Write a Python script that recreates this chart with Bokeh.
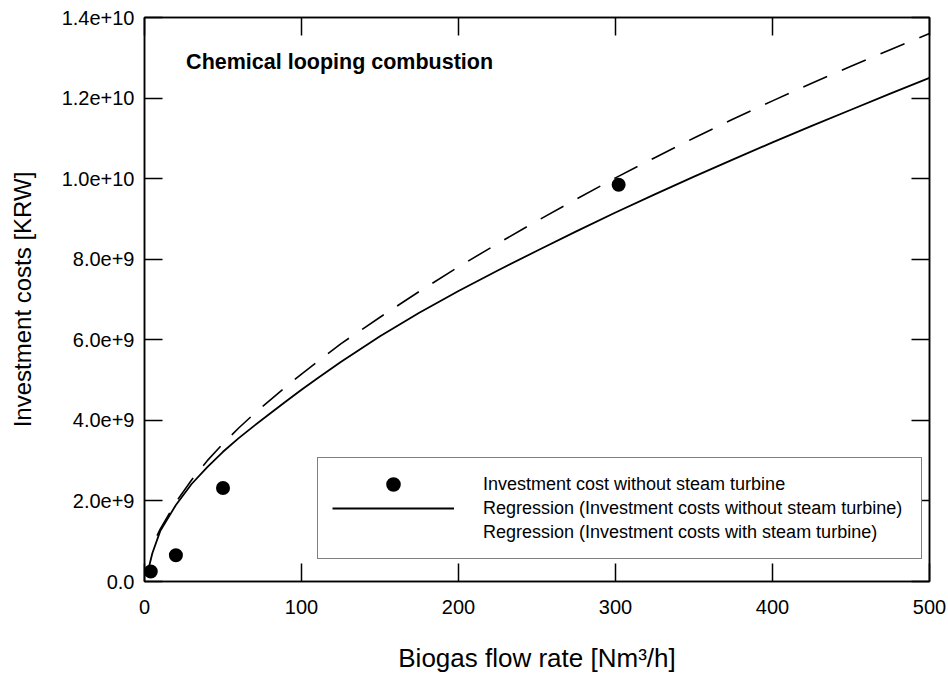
from bokeh.plotting import figure
from bokeh.models import LinearAxis, FixedTicker, Legend, LegendItem, Range1d, Label
from bokeh.embed import file_html
from bokeh.resources import INLINE

# ---- data ----
pts_x = [4, 20, 50, 302]
pts_y = [0.25e9, 0.65e9, 2.32e9, 9.85e9]

reg_wo_x = [1.5, 5, 10, 20, 30, 40, 50, 60, 70, 80, 90, 100, 110, 125, 150, 175, 200, 225, 250,
            275, 300, 325, 350, 375, 400, 425, 450, 475, 500]
reg_wo_y = [0.15e9, 0.70e9, 1.25e9, 1.90e9, 2.42e9, 2.84e9, 3.22e9, 3.56e9, 3.87e9, 4.17e9, 4.47e9,
            4.76e9, 5.04e9, 5.45e9, 6.09e9, 6.67e9, 7.21e9, 7.72e9, 8.21e9, 8.69e9, 9.16e9, 9.61e9,
            10.05e9, 10.48e9, 10.90e9, 11.31e9, 11.71e9, 12.11e9, 12.50e9]

reg_w_x = [8, 10, 20, 30, 40, 50, 60, 70, 80, 90, 100, 125, 150, 175, 200, 225, 250, 275, 300,
           325, 350, 375, 400, 425, 450, 475, 500]
reg_w_y = [1.14e9, 1.30e9, 1.97e9, 2.52e9, 3.00e9, 3.42e9, 3.81e9, 4.17e9, 4.50e9, 4.83e9, 5.15e9,
           5.90e9, 6.56e9, 7.20e9, 7.81e9, 8.39e9, 8.95e9, 9.49e9, 10.02e9, 10.52e9, 11.01e9,
           11.48e9, 11.93e9, 12.37e9, 12.79e9, 13.20e9, 13.60e9]

x_ticks = [0, 100, 200, 300, 400, 500]
y_ticks = [0, 2e9, 4e9, 6e9, 8e9, 1.0e10, 1.2e10, 1.4e10]
y_tick_labels = ["0.0", "2.0e+9", "4.0e+9", "6.0e+9", "8.0e+9", "1.0e+10", "1.2e+10", "1.4e+10"]

legend_labels = ["Investment cost without steam turbine",
                 "Regression (Investment costs without steam turbine)",
                 "Regression (Investment costs with steam turbine)"]
title_text = "Chemical looping combustion"

FONT = "Liberation Sans"

p = figure(width=948, height=679, output_backend="svg", toolbar_location=None,
           x_range=Range1d(0, 500), y_range=Range1d(0, 1.4e10),
           min_border_left=144, min_border_right=19, min_border_top=17, min_border_bottom=98,
           x_axis_label="Biogas flow rate [Nm³/h]", y_axis_label="Investment costs [KRW]")
p.grid.visible = False
p.outline_line_color = "black"
p.outline_line_width = 1.5
p.background_fill_color = "white"
p.border_fill_color = "white"

def style_axis(ax, ticks, show_labels=True):
    ax.ticker = FixedTicker(ticks=ticks)
    ax.major_tick_in = 18
    ax.major_tick_out = 0
    ax.minor_tick_line_color = None
    ax.axis_line_color = "black"
    ax.axis_line_width = 1.5
    ax.major_tick_line_color = "black"
    ax.major_tick_line_width = 1.5
    ax.major_label_text_font = FONT
    ax.major_label_text_font_size = "20px" if show_labels else "1px"
    ax.major_label_text_color = "black" if show_labels else None
    ax.axis_label_text_font = FONT
    ax.axis_label_text_font_style = "normal"
    ax.axis_label_text_color = "black"

xa = p.xaxis[0]
ya = p.yaxis[0]
style_axis(xa, x_ticks)
style_axis(ya, y_ticks)
ya.major_label_overrides = {t: l for t, l in zip(y_ticks, y_tick_labels)}
xa.axis_label_text_font_size = "26px"
ya.axis_label_text_font_size = "24px"
xa.major_label_standoff = 18
ya.major_label_standoff = 10
xa.axis_label_standoff = 26
ya.axis_label_standoff = 23

top = LinearAxis()
style_axis(top, x_ticks, show_labels=False)
top.major_label_standoff = 0
p.add_layout(top, "above")
right = LinearAxis()
style_axis(right, y_ticks, show_labels=False)
right.major_label_standoff = 0
p.add_layout(right, "right")

r_wo = p.line(reg_wo_x, reg_wo_y, line_color="black", line_width=1.8)
r_w = p.line(reg_w_x, reg_w_y, line_color="black", line_width=1.6, line_dash="26 16")
r_pts = p.scatter(pts_x, pts_y, size=9, marker="circle", fill_color="black", line_color="black", line_width=5)
r_dummy = p.line(x=[], y=[], line_alpha=0)

legend = Legend(items=[LegendItem(label=legend_labels[0], renderers=[r_pts]),
                       LegendItem(label=legend_labels[1], renderers=[r_wo]),
                       LegendItem(label=legend_labels[2], renderers=[r_dummy])],
                location=(173, 22), margin=0, padding=14, spacing=0,
                glyph_width=122, glyph_height=24, label_height=24, label_standoff=29, label_width=424,
                label_text_font=FONT, label_text_font_size="18px", label_text_color="black",
                border_line_color="black", border_line_width=1.5, background_fill_alpha=1)
p.add_layout(legend, "center")

p.add_layout(Label(x=26.5, y=1.29e10, text=title_text, text_font=FONT, text_font_size="21.5px",
                   text_font_style="bold", text_baseline="middle", text_align="left", text_color="black"))

open("out.html", "w").write(file_html(p, INLINE))
